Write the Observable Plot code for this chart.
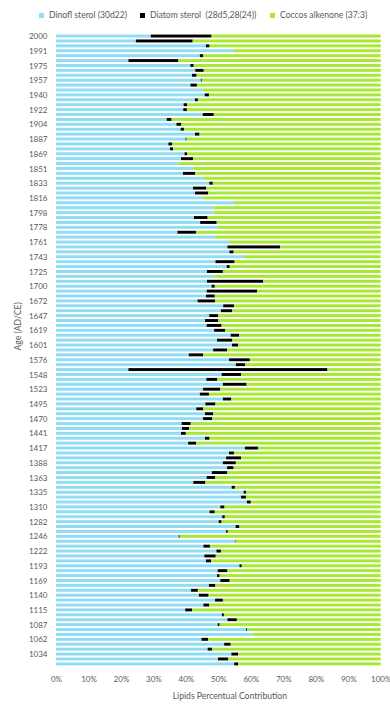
<!DOCTYPE html>
<html>
<head>
<meta charset="utf-8">
<script src="https://cdn.jsdelivr.net/npm/d3@7"></script>
<script src="https://cdn.jsdelivr.net/npm/@observablehq/plot@0.6"></script>
<style>
  html, body { margin: 0; padding: 0; background: #fff; }
  #wrap { width: 390px; height: 704px; position: relative; overflow: hidden; }
  #legend { position: relative; height: 30px; font-family: Lato, sans-serif; font-size: 8.6px; color: #595959; }
  .item { position: absolute; top: 10px; height: 10px; display: flex; align-items: center; white-space: pre; }
  .sw { width: 5px; height: 5px; margin-right: 5px; }
</style>
</head>
<body>
<div id="wrap">
  <div id="legend"></div>
  <div id="chart"></div>
</div>
<script>
// Series names and colours
const seriesNames = ["Dinofl sterol (30d22)", "Diatom sterol  (28d5,28(24))", "Coccos alkenone (37:3)"];
const seriesColors = ["#8fdcf4", "#000000", "#a6e832"];

// Age categories (top to bottom); labelled ticks every third row
const ages = [2000,1997,1994,1991,1986,1980,1975,1969,1963,1957,1951,1946,1940,1934,1928,1922,1916,1910,1904,1898,1893,1887,1881,1875,1869,1863,1857,1851,1845,1839,1833,1827,1822,1816,1810,1804,1798,1791,1785,1778,1772,1767,1761,1755,1749,1743,1737,1731,1725,1717,1708,1700,1691,1681,1672,1664,1655,1647,1638,1628,1619,1613,1607,1601,1593,1584,1576,1567,1557,1548,1540,1531,1523,1514,1504,1495,1487,1478,1470,1460,1451,1441,1433,1425,1417,1407,1398,1388,1380,1371,1363,1354,1344,1335,1327,1318,1310,1301,1291,1282,1270,1258,1246,1238,1230,1222,1212,1203,1193,1185,1177,1169,1159,1150,1140,1132,1123,1115,1106,1096,1087,1079,1070,1062,1053,1043,1034,1025,1016];
const ageTicks = [2000,1991,1975,1957,1940,1922,1904,1887,1869,1851,1833,1816,1798,1778,1761,1743,1725,1700,1672,1647,1619,1601,1576,1548,1523,1495,1470,1441,1417,1388,1363,1335,1310,1282,1246,1222,1193,1169,1140,1115,1087,1062,1034];

// Percent contributions per row
const dinofl = [29.2,24.6,46.2,54.6,44.3,22.3,41.4,42.9,41.9,44.6,41.4,45.2,45.8,42.8,39.3,39.2,45.2,34.1,37.1,38.4,42.8,39.9,34.6,35.1,39.6,38.5,37.7,42.3,39.1,45.4,47.2,42.2,42.8,45.4,54.8,48.5,48.5,42.5,44.4,49.7,37.4,48.9,53.3,
52.8,53.4,57.9,49.1,52.6,46.5,48.7,46.5,47.9,46.4,46.2,43.6,51.5,50.8,47.2,45.9,46.4,48.7,53.8,49.6,54.2,48.4,40.9,53.3,55.4,22.3,51.0,46.3,51.4,45.3,44.3,51.4,46.0,43.2,45.9,45.3,38.7,38.8,38.5,45.9,40.7,58.2,53.3,
52.4,51.4,52.7,48.0,46.4,42.3,54.1,57.8,57.0,58.8,50.6,47.3,51.2,50.1,55.3,52.4,37.8,55.1,45.4,49.4,45.7,46.2,56.5,49.8,49.6,50.6,47.1,41.6,44.0,49.0,45.4,39.8,51.1,52.8,49.8,58.6,60.6,44.8,51.8,46.7,54.0,49.9,54.9];
const diatom = [18.7,17.5,1.1,0,1.0,15.4,1.0,2.6,1.4,0.3,2.0,0,1.3,0.9,1.1,1.1,3.4,1.5,1.5,1.0,1.4,0.3,1.2,1.0,0.8,3.7,0,0,3.7,0,1.1,4.1,4.1,0,0,0,0,4.2,5.1,0,5.7,0,0,
16.2,1.3,0,5.9,0.9,4.9,0,17.3,1.0,15.5,2.7,5.4,3.3,3.5,2.7,4.1,4.6,3.4,2.6,4.7,1.9,4.3,4.4,6.4,2.8,61.3,6.0,3.4,7.3,5.3,2.8,2.6,3.1,2.1,2.5,2.8,2.8,2.2,1.5,1.4,2.5,4.1,1.5,
4.6,4.0,2.0,4.7,2.6,3.7,1.0,0.7,1.5,1.2,1.3,1.6,0.8,0.9,1.2,0.5,0.3,0.2,2.0,1.4,3.5,1.6,0.7,3.0,0.8,2.9,2.0,2.1,3.0,2.4,1.8,2.1,0.6,2.9,0.6,0.3,0,2.1,2.0,1.4,2.1,3.2,1.2];
const coccos = [52.1,57.9,52.7,45.4,54.7,62.3,57.6,54.5,56.7,55.1,56.6,54.8,52.9,56.3,59.6,59.7,51.4,64.4,61.4,60.6,55.8,59.8,64.2,63.9,59.6,57.8,62.3,57.7,57.2,54.6,51.7,53.7,53.1,54.6,45.2,51.5,51.5,53.3,50.5,50.3,56.9,51.1,46.7,
31.0,45.3,42.1,45.0,46.5,48.6,51.3,36.2,51.1,38.1,51.1,51.0,45.2,45.7,50.1,50.0,49.0,47.9,43.6,45.7,43.9,47.3,54.7,40.3,41.8,16.4,43.0,50.3,41.3,49.4,52.9,46.0,50.9,54.7,51.6,51.9,58.5,59.0,60.0,52.7,56.8,37.7,45.2,
43.0,44.6,45.3,47.3,51.0,54.0,44.9,41.5,41.5,40.0,48.1,51.1,48.0,49.0,43.5,47.1,61.9,44.7,52.6,49.2,50.8,52.2,42.8,47.2,49.6,46.5,50.9,56.3,53.0,48.6,52.8,58.1,48.3,44.3,49.6,41.1,39.4,53.1,46.2,51.9,43.9,46.9,43.9];

const xTicks = [0,10,20,30,40,50,60,70,80,90,100];

// Legend (HTML, above the SVG)
const legendPos = [39, 140, 270];
const legend = document.getElementById("legend");
seriesNames.forEach((name, i) => {
  const it = document.createElement("div");
  it.className = "item";
  it.style.left = legendPos[i] + "px";
  const sw = document.createElement("span");
  sw.className = "sw";
  sw.style.background = seriesColors[i];
  const tx = document.createElement("span");
  tx.textContent = name;
  it.appendChild(sw); it.appendChild(tx);
  legend.appendChild(it);
});

// Long table for stacking
const rows = [];
ages.forEach((a, i) => {
  rows.push({age: a, series: seriesNames[0], value: dinofl[i]});
  rows.push({age: a, series: seriesNames[1], value: diatom[i]});
  rows.push({age: a, series: seriesNames[2], value: coccos[i]});
});

const chart = Plot.plot({
  width: 390,
  height: 674,
  marginLeft: 56,
  marginRight: 9.3,
  marginTop: 2.6,
  marginBottom: 36.7,
  style: {fontFamily: "Lato, sans-serif", fontSize: "8px", color: "#595959", background: "#fff"},
  x: {domain: [0, 100]},
  y: {domain: ages, padding: 0.4},
  color: {domain: seriesNames, range: seriesColors},
  marks: [
    Plot.barX(rows, {x: "value", y: "age", fill: "series"}),
    Plot.axisX({ticks: xTicks, tickFormat: d => d + "%", tickSize: 0, tickPadding: 9, label: null, fill: "#595959"}),
    Plot.axisY({ticks: ageTicks, tickFormat: d => String(d), tickSize: 0, tickPadding: 9, label: null, fill: "#595959"}),
    Plot.text(["Age (AD/CE)"], {frameAnchor: "left", dx: -38.5, rotate: -90, fill: "#595959", fontSize: 8.6}),
    Plot.text(["Lipids Percentual Contribution"], {frameAnchor: "bottom", dy: 31, dx: 11, fill: "#595959", fontSize: 8.6})
  ]
});
document.getElementById("chart").appendChild(chart);
</script>
</body>
</html>
